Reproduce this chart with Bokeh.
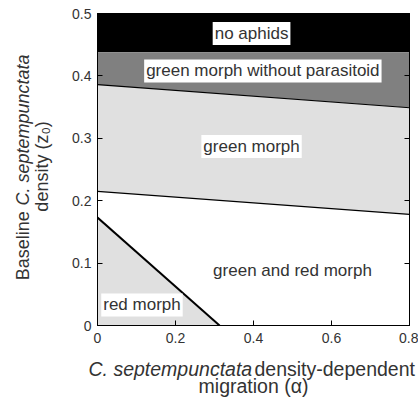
import math
from bokeh.plotting import figure
from bokeh.layouts import column, row
from bokeh.models import Label, LinearAxis, Range1d, FixedTicker
from bokeh.embed import file_html
from bokeh.resources import INLINE

# ---- data ----
alpha = [0.0, 0.8]
no_aphid_level = [0.438, 0.438]
top_level = [0.5, 0.5]
upper_boundary = [0.386, 0.349]
lower_boundary = [0.215, 0.178]
red_alpha = [0.0, 0.313]
red_boundary = [0.173, 0.0]
x_ticks = [0, 0.2, 0.4, 0.6, 0.8]
y_ticks = [0, 0.1, 0.2, 0.3, 0.4, 0.5]
region_names = ["no aphids", "green morph without parasitoid", "green morph",
                "green and red morph", "red morph"]
region_x = [0.395, 0.424, 0.395, 0.50, 0.114]
region_y = [0.468, 0.408, 0.287, 0.088, 0.033]

FONT = "Liberation Sans"
TXT = "#333333"
XLAB_SIZE = "19.5px"
YLAB_SIZE = "18px"
TOTAL_W, TOTAL_H = 418, 397
YLAB_W = 60
MAIN_H = 351

def blank_fig(w, h, x0, x1, y0, y1):
    f = figure(width=w, height=h, x_range=Range1d(x0, x1), y_range=Range1d(y0, y1),
               x_axis_type=None, y_axis_type=None, toolbar_location=None,
               output_backend="svg", min_border=0, outline_line_color=None)
    f.grid.visible = False
    return f

# ---- main plot ----
p = figure(width=TOTAL_W - YLAB_W, height=MAIN_H, output_backend="svg", toolbar_location=None,
           x_range=Range1d(0, 0.8), y_range=Range1d(0, 0.5),
           min_border_left=97 - YLAB_W, min_border_right=9, min_border_top=13,
           min_border_bottom=MAIN_H - 325)
p.grid.visible = False
p.outline_line_color = "black"
p.outline_line_width = 1
p.background_fill_color = "white"

p.varea(x=alpha, y1=no_aphid_level, y2=top_level, fill_color="black")
p.varea(x=alpha, y1=upper_boundary, y2=no_aphid_level, fill_color="#808080")
p.varea(x=alpha, y1=lower_boundary, y2=upper_boundary, fill_color="#e0e0e0")
p.varea(x=red_alpha, y1=[0, 0], y2=red_boundary, fill_color="#e0e0e0")
p.line(alpha, upper_boundary, line_color="black", line_width=1.2)
p.line(alpha, lower_boundary, line_color="black", line_width=1.2)
p.line(red_alpha, red_boundary, line_color="black", line_width=2)

for ax in (p.xaxis[0], p.yaxis[0]):
    ax.major_tick_in = 5
    ax.major_tick_out = 0
    ax.minor_tick_line_color = None
    ax.axis_line_color = "black"
    ax.major_tick_line_color = "black"
    ax.major_label_text_font = FONT
    ax.major_label_text_font_size = "14px"
    ax.major_label_text_color = TXT
p.xaxis[0].major_label_standoff = 7
p.yaxis[0].major_label_standoff = 6
p.xaxis[0].ticker = FixedTicker(ticks=x_ticks)
p.yaxis[0].ticker = FixedTicker(ticks=y_ticks)
p.xaxis[0].major_label_overrides = {0: "0"}
p.yaxis[0].major_label_overrides = {0: "0"}

right = LinearAxis(ticker=FixedTicker(ticks=y_ticks), major_tick_in=5, major_tick_out=0,
                   minor_tick_line_color=None, major_label_text_font_size="0px",
                   major_label_standoff=0, major_label_text_color=None,
                   axis_line_color="black")
p.add_layout(right, "right")
top = LinearAxis(ticker=FixedTicker(ticks=x_ticks), major_tick_in=5, major_tick_out=0,
                 minor_tick_line_color=None, major_label_text_font_size="0px",
                 major_label_standoff=0, major_label_text_color=None,
                 axis_line_color="black")
p.add_layout(top, "above")

for name, x, y in zip(region_names, region_x, region_y):
    p.add_layout(Label(x=x, y=y, text=name, text_font=FONT, text_font_size="17px",
                       text_color=TXT, text_align="center", text_baseline="middle",
                       background_fill_color="white", padding=2))

# ---- y-axis title panel (coordinates = page pixels) ----
ylab = blank_fig(YLAB_W, MAIN_H, 0, YLAB_W, MAIN_H, 0)
ylab.add_layout(Label(x=22, y=300, angle=math.pi / 2, text="Baseline", text_font=FONT,
                      text_font_size=YLAB_SIZE, text_color=TXT, text_align="left",
                      text_baseline="middle"))
ylab.add_layout(Label(x=22, y=216, angle=math.pi / 2, text="C. septempunctata",
                      text_font=FONT, text_font_style="italic", text_font_size=YLAB_SIZE,
                      text_color=TXT, text_align="left", text_baseline="middle"))
ylab.add_layout(Label(x=41, y=172, angle=math.pi / 2, text="density (z\u2080)",
                      text_font=FONT, text_font_size=YLAB_SIZE, text_color=TXT,
                      text_align="center", text_baseline="middle"))

# ---- x-axis title panel ----
xlab = blank_fig(TOTAL_W, TOTAL_H - MAIN_H, 0, TOTAL_W, TOTAL_H, MAIN_H)
xlab.add_layout(Label(x=88, y=368.5, text="C. septempunctata", text_font=FONT,
                      text_font_style="italic", text_font_size=XLAB_SIZE, text_color=TXT,
                      text_align="left", text_baseline="middle"))
xlab.add_layout(Label(x=254, y=368.5, text="density-dependent", text_font=FONT,
                      text_font_size=XLAB_SIZE, text_color=TXT, text_align="left",
                      text_baseline="middle"))
xlab.add_layout(Label(x=253, y=385.5, text="migration (\u03b1)", text_font=FONT,
                      text_font_size=XLAB_SIZE, text_color=TXT, text_align="center",
                      text_baseline="middle"))

layout = column(row(ylab, p, spacing=0), xlab, spacing=0)
open("out.html", "w").write(file_html(layout, INLINE))
